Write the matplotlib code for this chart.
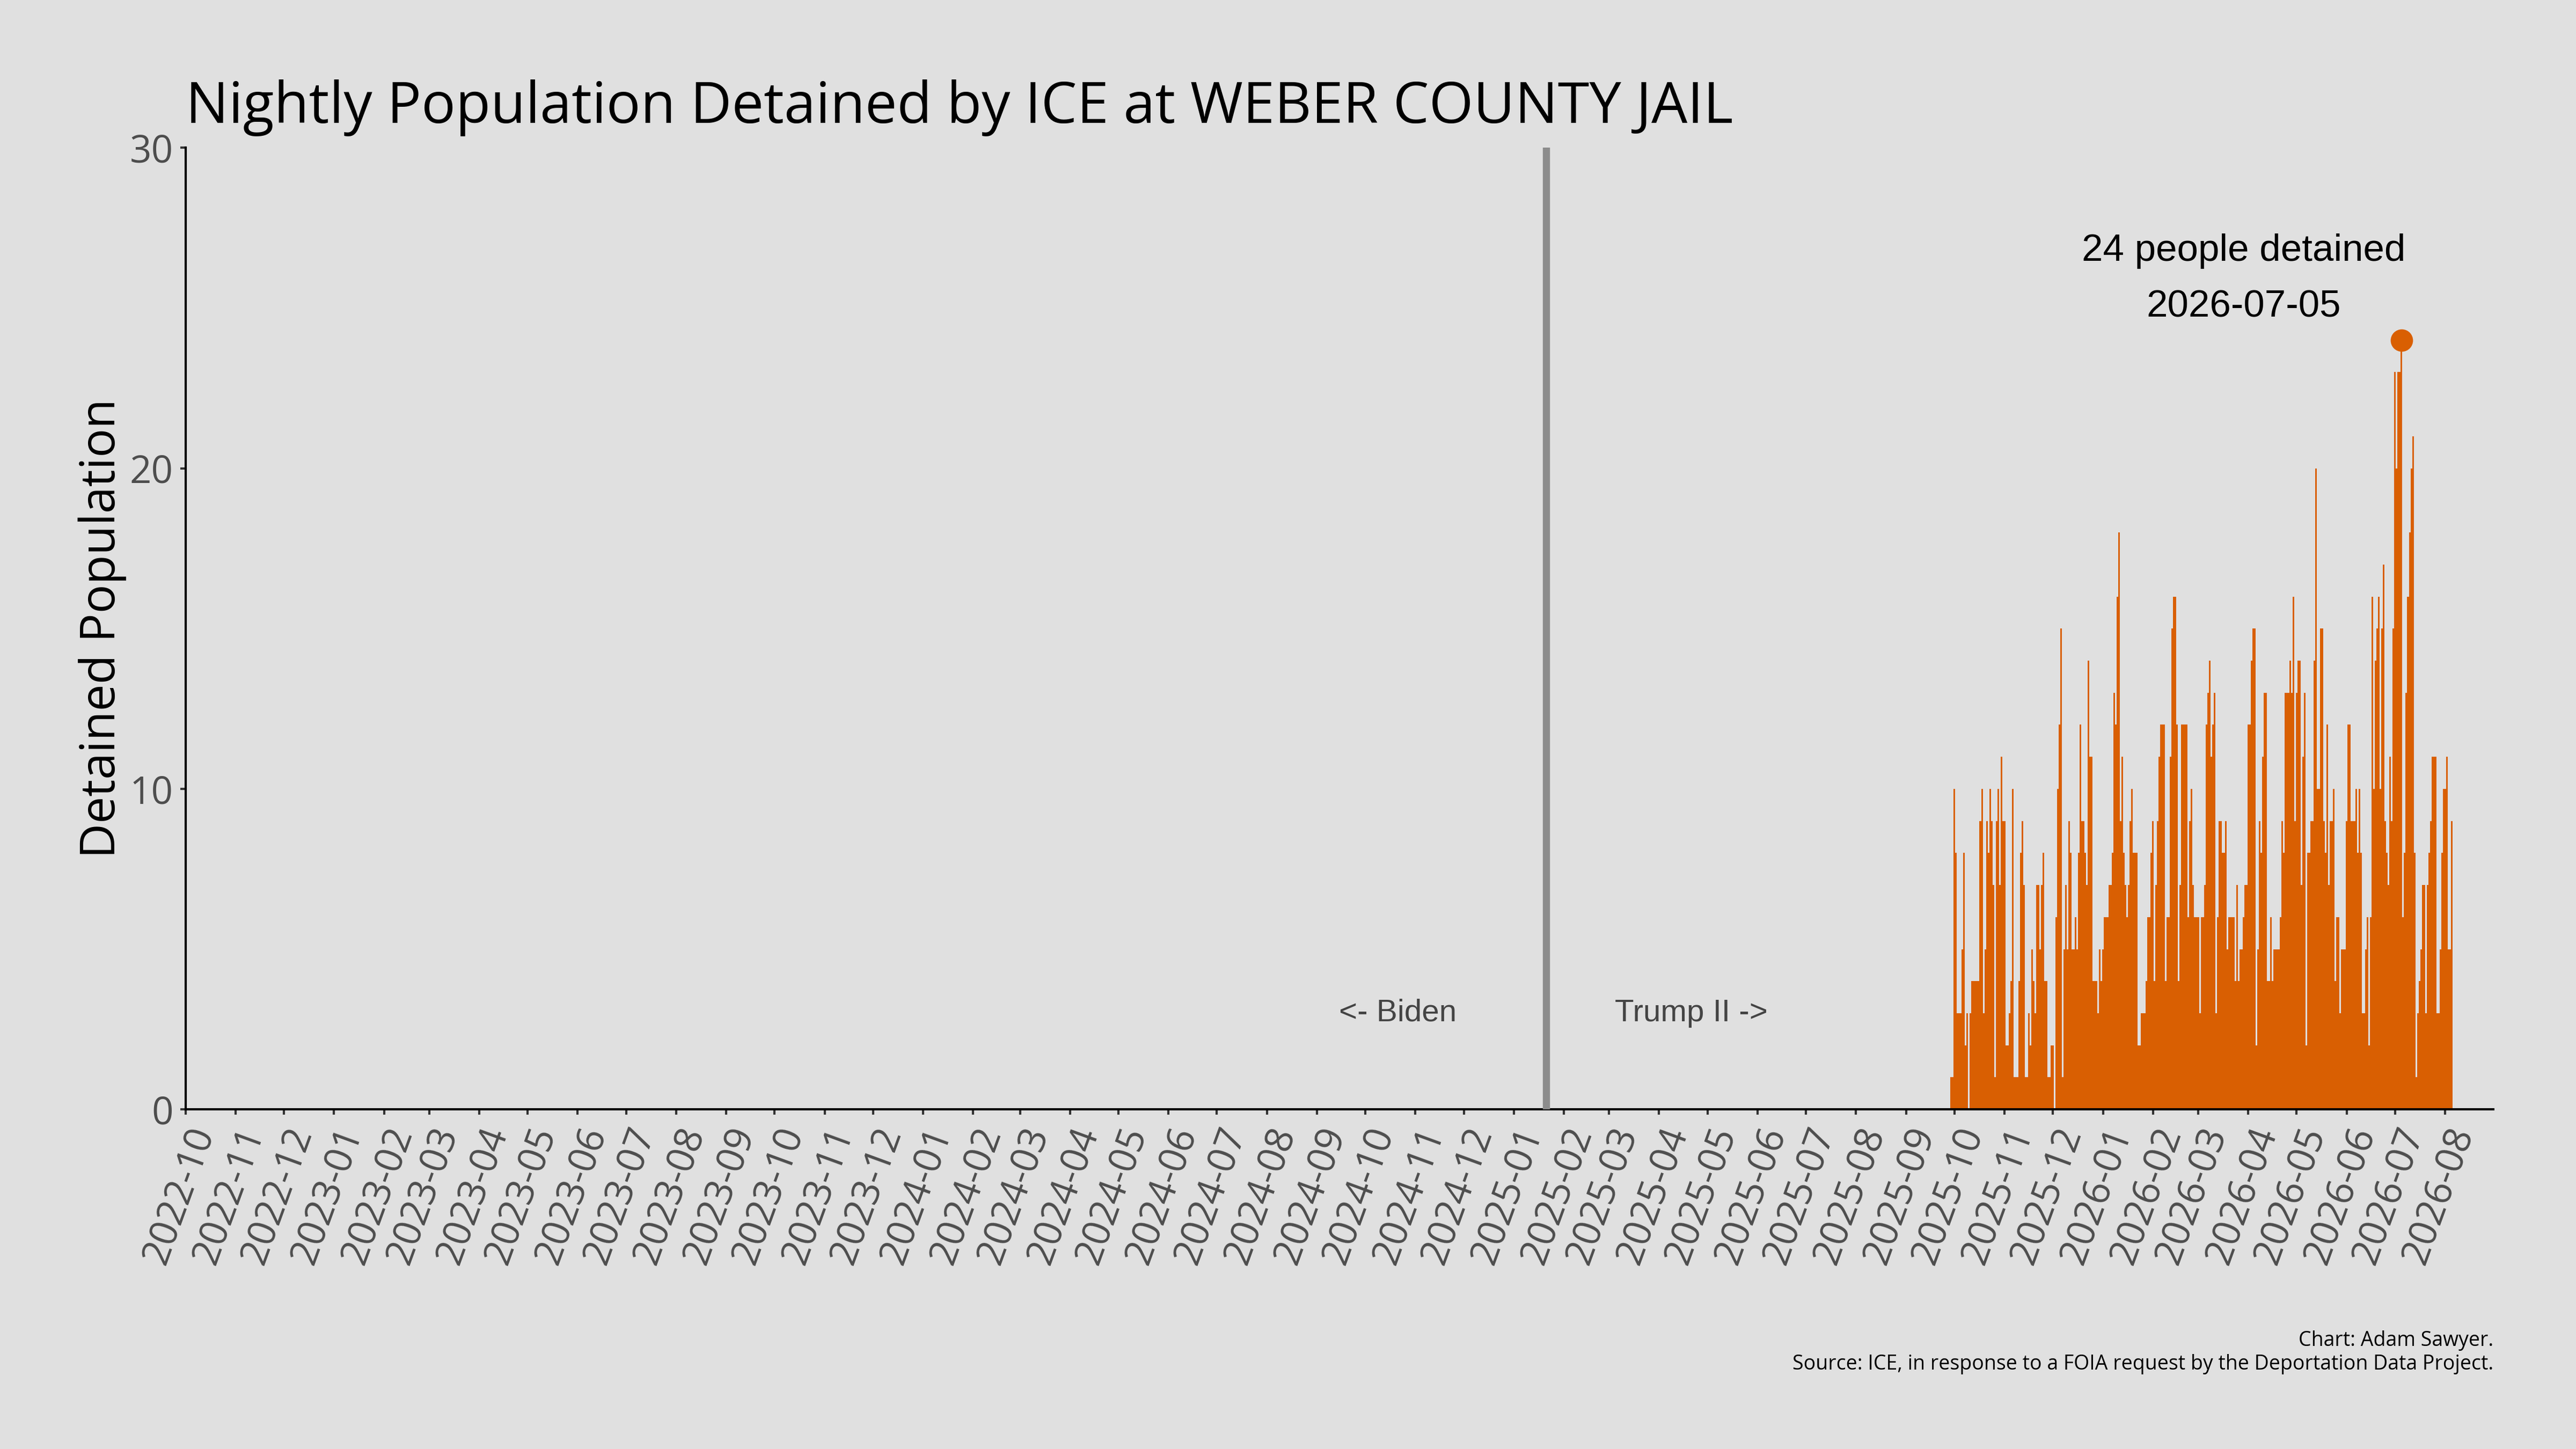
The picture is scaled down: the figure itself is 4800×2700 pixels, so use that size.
#Nightly ICE detained population at Weber County Jail
import numpy as np
import pandas as pd
import matplotlib
matplotlib.use('Agg')
import matplotlib.pyplot as plt
import matplotlib.dates as mdates

# ---- data ----
start_date = '2025-09-29'
vals_2025_09 = [1, 1]
vals_2025_10 = [10, 8, 3, 3, 3, 5, 8, 2, 3, 0, 3, 4, 4, 4, 4, 4, 9, 10, 3, 5, 9, 8, 10, 9, 7, 1, 9, 10, 7, 11, 9]
vals_2025_11 = [9, 2, 2, 3, 4, 10, 1, 1, 1, 4, 8, 9, 7, 1, 1, 3, 2, 5, 4, 3, 7, 7, 5, 7, 8, 4, 4, 1, 1, 2]
vals_2025_12 = [2, 0, 6, 10, 12, 15, 1, 5, 7, 5, 9, 8, 5, 5, 6, 5, 8, 12, 9, 9, 8, 7, 14, 11, 11, 4, 4, 4, 3, 5, 4]
vals_2026_01 = [5, 6, 6, 6, 7, 7, 8, 13, 12, 16, 18, 9, 11, 8, 7, 6, 7, 9, 10, 8, 8, 8, 2, 2, 3, 3, 3, 4, 6, 6, 8]
vals_2026_02 = [9, 4, 7, 9, 11, 12, 12, 12, 4, 6, 6, 11, 15, 16, 16, 12, 4, 7, 12, 12, 12, 12, 6, 9, 10, 7, 6, 6]
vals_2026_03 = [6, 3, 6, 6, 7, 12, 13, 14, 11, 12, 13, 3, 6, 9, 9, 8, 8, 9, 5, 6, 6, 6, 6, 4, 7, 4, 5, 5, 6, 7, 7]
vals_2026_04 = [12, 12, 14, 15, 15, 2, 5, 9, 8, 11, 13, 13, 4, 4, 6, 4, 5, 5, 5, 5, 6, 9, 8, 13, 13, 13, 14, 13, 16, 9]
vals_2026_05 = [13, 14, 14, 7, 11, 13, 2, 8, 8, 9, 9, 14, 20, 10, 10, 15, 15, 9, 8, 12, 7, 9, 9, 10, 4, 6, 6, 3, 5, 5, 5]
vals_2026_06 = [9, 12, 12, 9, 9, 9, 10, 8, 10, 8, 3, 3, 5, 6, 2, 6, 16, 10, 14, 15, 16, 10, 15, 17, 9, 8, 7, 11, 9, 15]
vals_2026_07 = [23, 20, 23, 23, 24, 6, 8, 13, 16, 18, 20, 21, 8, 1, 3, 4, 5, 7, 7, 3, 7, 8, 9, 11, 11, 11, 3, 3, 5, 8, 10]
vals_2026_08 = [10, 11, 5, 5, 9]

population = (vals_2025_09 + vals_2025_10 + vals_2025_11 + vals_2025_12 + vals_2026_01 +
              vals_2026_02 + vals_2026_03 + vals_2026_04 + vals_2026_05 + vals_2026_06 +
              vals_2026_07 + vals_2026_08)
dates = pd.date_range(start_date, periods=len(population), freq='D')

inauguration = pd.Timestamp('2025-01-20')
peak_i = int(np.argmax(population))
peak_date = dates[peak_i]
peak_val = population[peak_i]

# ---- style ----
bg = '#e0e0e0'
orange = '#d95f02'
plt.rcParams['font.family'] = ['Open Sans', 'DejaVu Sans']
arial = ['Liberation Sans', 'DejaVu Sans']

fig = plt.figure(figsize=(16, 9), dpi=300, facecolor=bg)
ax = fig.add_axes([0.072, 0.2344, 0.896, 0.6636], facecolor=bg)

ax.bar(dates, population, width=1.0, color=orange, linewidth=0, align='center')
ax.axvline(inauguration + pd.Timedelta(days=1), color='#8c8c8c', linewidth=3.2, zorder=3)
ax.plot([peak_date], [peak_val], 'o', color=orange, markersize=9, zorder=4)

ax.text(peak_date - pd.Timedelta(days=98), 25.9,
        f'{peak_val} people detained\n{peak_date:%Y-%m-%d}',
        ha='center', va='center', fontsize=17, linespacing=1.75,
        family=arial, color='black')
ax.text(inauguration - pd.Timedelta(days=91), 3, '<- Biden', ha='center', va='center',
        fontsize=14, color='#444444', family=arial)
ax.text(inauguration + pd.Timedelta(days=91), 3, 'Trump II ->', ha='center', va='center',
        fontsize=14, color='#444444', family=arial)

ax.set_xlim(pd.Timestamp('2022-10-01'), pd.Timestamp('2026-08-31'))
ax.set_ylim(0, 30)
ax.set_yticks([0, 10, 20, 30])

ax.xaxis.set_major_locator(mdates.MonthLocator())
ax.xaxis.set_major_formatter(mdates.DateFormatter('%Y-%m'))
for lab in ax.get_xticklabels():
    lab.set_rotation(70)
    lab.set_ha('right')
    lab.set_rotation_mode('anchor')

ax.tick_params(axis='both', colors='#333333', labelcolor='#4d4d4d', labelsize=17,
               length=2.5, width=1.0, pad=3)

for s in ['top', 'right']:
    ax.spines[s].set_visible(False)
for s in ['left', 'bottom']:
    ax.spines[s].set_color('black')
    ax.spines[s].set_linewidth(1.0)

ax.set_ylabel('Detained Population', fontsize=21.5, color='black')
ax.yaxis.set_label_coords(-0.0255, 0.5)

fig.text(0.072, 0.915, 'Nightly Population Detained by ICE at WEBER COUNTY JAIL',
         ha='left', va='baseline', fontsize=25.5, color='black')
fig.text(0.968, 0.0548, 'Chart: Adam Sawyer.\nSource: ICE, in response to a FOIA request by the Deportation Data Project.',
         ha='right', va='baseline', fontsize=9, color='black', linespacing=1.2)

fig.savefig('out.png', dpi=300, facecolor=bg)
